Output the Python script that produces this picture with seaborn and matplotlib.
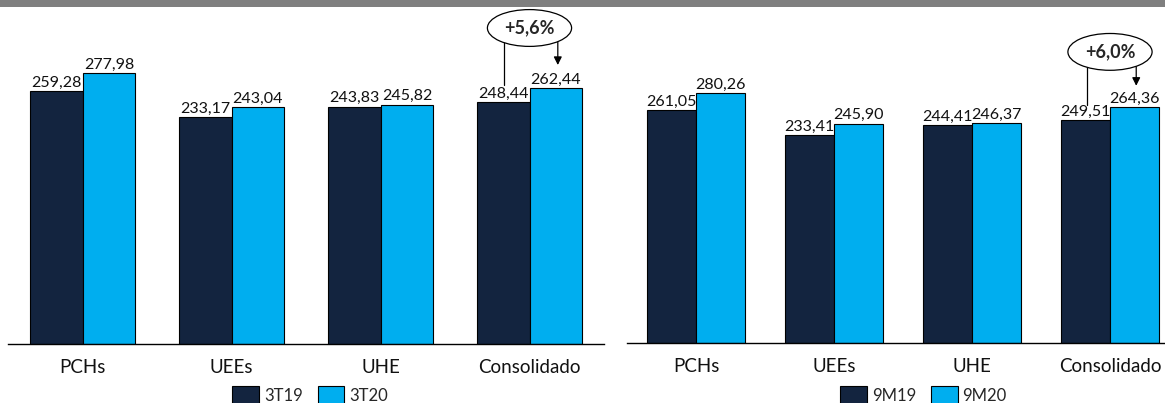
import matplotlib
matplotlib.use("Agg")
import matplotlib.pyplot as plt
import seaborn as sns
import pandas as pd
from matplotlib.patches import Rectangle

categories = ["PCHs", "UEEs", "UHE", "Consolidado"]
left_series = ["3T19", "3T20"]
left_a = [259.28, 233.17, 243.83, 248.44]
left_b = [277.98, 243.04, 245.82, 262.44]
left_growth = "+5,6%"
right_series = ["9M19", "9M20"]
right_a = [261.05, 233.41, 244.41, 249.51]
right_b = [280.26, 245.90, 246.37, 264.36]
right_growth = "+6,0%"

DARK = "#13243F"
LIGHT = "#00AEEF"

sns.set_theme(style="white")
plt.rcParams["font.family"] = ["Lato", "DejaVu Sans"]

W, H = 1165, 403
fig = plt.figure(figsize=(W / 100, H / 100), dpi=100)

# top gray band
fig.patches.append(Rectangle((0, 1 - 7 / H), 1, 7 / H, transform=fig.transFigure,
                             facecolor="#7f7f7f", edgecolor="none"))


def panel(rect, names, a, b, growth, ymax, legend_x, legend_y):
    ax = fig.add_axes(rect)
    df = pd.DataFrame({
        "cat": categories * 2,
        "val": list(a) + list(b),
        "per": [names[0]] * 4 + [names[1]] * 4,
    })
    sns.barplot(data=df, x="cat", y="val", hue="per", palette=[DARK, LIGHT],
                width=0.71, edgecolor="black", linewidth=0.8, ax=ax,
                errorbar=None, saturation=1)
    for cont, vals in zip(ax.containers, [a, b]):
        ax.bar_label(cont, labels=[f"{v:.2f}".replace(".", ",") for v in vals],
                     padding=1, fontsize=11.5, color="#111111")
    ax.set_xlim(-0.5, 3.5)
    ax.set_ylim(0, ymax)
    ax.set_xlabel("")
    ax.set_ylabel("")
    ax.set_yticks([])
    for s in ["top", "left", "right"]:
        ax.spines[s].set_visible(False)
    ax.spines["bottom"].set_color("black")
    ax.spines["bottom"].set_linewidth(1.0)
    ax.tick_params(axis="x", length=0, pad=11, labelsize=13.5, labelcolor="#111111")
    ax.legend(loc="center", bbox_to_anchor=(legend_x, legend_y), ncol=2,
              frameon=False, fontsize=12, handlelength=1.6, handleheight=1.3,
              handletextpad=0.3, columnspacing=0.9, borderpad=0.1)
    # growth annotation
    i = 3
    xa = i - 0.17
    xb = i + 0.19
    top = max(a[i], b[i])
    ytext = top + 62
    ax.plot([xa, xa], [a[i] + 17, ytext - 10], color="black", lw=0.9, clip_on=False)
    ax.annotate("", xy=(xb, b[i] + 24), xytext=(xb, ytext - 10),
                arrowprops=dict(arrowstyle="-|>", color="black", lw=0.9,
                                mutation_scale=12, shrinkA=0, shrinkB=0),
                annotation_clip=False)
    ax.text(i, ytext, growth, ha="center", va="center", fontsize=13, fontweight="bold",
            bbox=dict(boxstyle="ellipse,pad=0.25", fc="white", ec="black", lw=0.9),
            clip_on=False, zorder=5)
    return ax


# left panel: x 8..604 px, baseline y=344 px, 0.974 px/unit
ymax_l = 340
hl = ymax_l * 0.974
panel([8 / W, (H - 344) / H, 596 / W, hl / H], left_series, left_a, left_b,
      left_growth, ymax_l, 0.507, -(395 - 344) / hl)

# right panel: x 627..1179 px, baseline y=343 px, 0.892 px/unit
ymax_r = 340
hr = ymax_r * 0.892
panel([627 / W, (H - 343) / H, 552 / W, hr / H], right_series, right_a, right_b,
      right_growth, ymax_r, 0.537, -(395 - 343) / hr)

fig.savefig("out.png", dpi=100)
